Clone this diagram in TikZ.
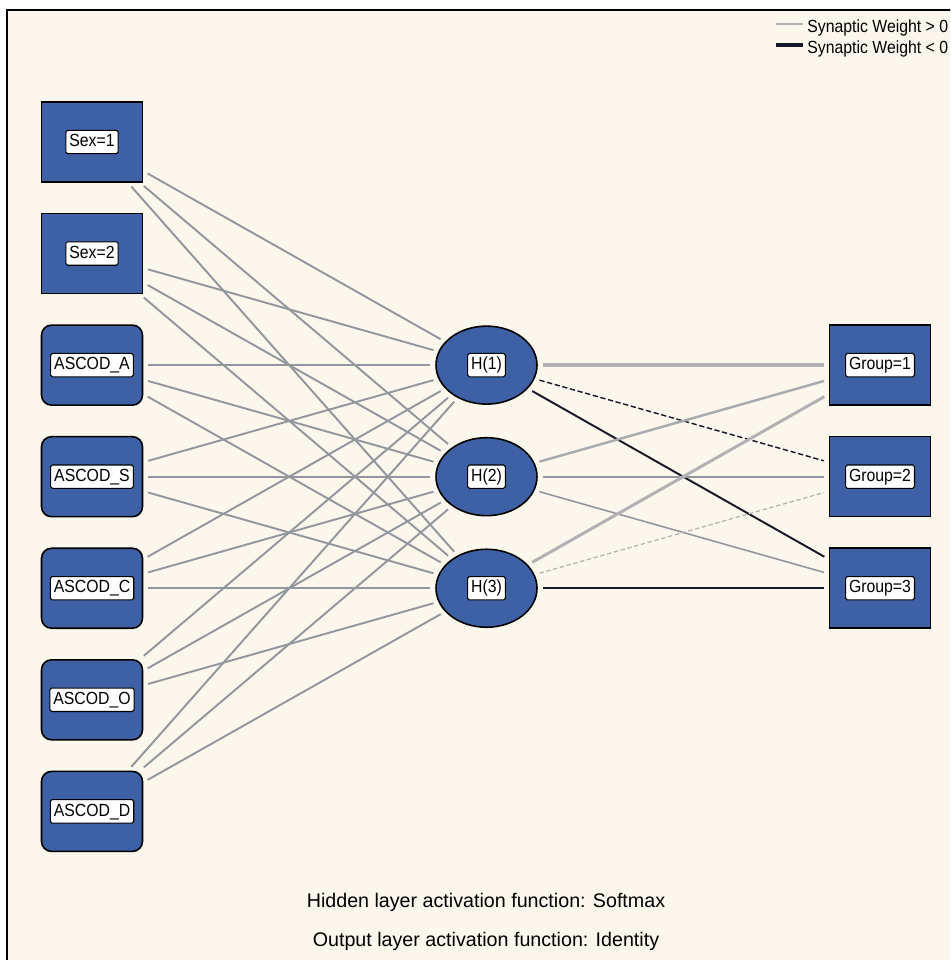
\documentclass[tikz,border=0pt]{standalone}
\usepackage{fontspec}
\setmainfont{Liberation Sans}
\newfontfamily\narrowsf[FakeStretch=0.9]{Liberation Sans}
\usetikzlibrary{shapes, positioning}
\definecolor{paper}{RGB}{252,247,236}
\definecolor{unitblue}{RGB}{62,97,166}
\definecolor{wgray}{RGB}{146,151,158}
\definecolor{wlight}{RGB}{178,178,180}
\definecolor{wdark}{RGB}{22,24,40}
\tikzset{unit/.style = {
  % Box:
  draw=black, line width=0.9pt,
  fill=unitblue,
  minimum width=2.02cm, minimum height=1.6cm,
  inner sep=0pt
  }}
\tikzset{factor/.style = {unit, rectangle}}
\tikzset{covariate/.style = {unit, rectangle, rounded corners=0.2cm}}
\tikzset{hidden/.style = {unit, ellipse, minimum height=1.56cm}}
\tikzset{output/.style = {unit, rectangle}}
\tikzset{tag/.style = {
  % Label:
  draw=black, line width=0.6pt, fill=white,
  rounded corners=1pt,
  inner xsep=0.07cm, inner ysep=2pt,
  text height=7.3pt, text depth=2pt,
  font=\narrowsf\fontsize{10}{12}\selectfont
  }}
\tikzset{weight/.style = {
  shorten >= 0.1cm,
  shorten <= 0.1cm,
  line width=1.1pt,
  draw=wgray
  }}
\tikzset{wpos/.style = {weight, draw=wlight}}
\tikzset{wneg/.style = {weight, draw=wdark}}

\begin{document}
\begin{tikzpicture}[x=0.02cm, y=-0.02cm]
\useasboundingbox (0,0) rectangle (950,960);
\clip (0,0) rectangle (950,960);
% BACKGROUND
\fill[white] (0,0) rectangle (950,960);
\fill[paper] (7,10) rectangle (1000,1000);
\draw[line width=1.3pt] (7,1000) |- (1000,10);

% NODES
\node (sex1) [factor, label={[tag, name=sex1-t]center:Sex=1}] at (92,142) {};
\node (sex2) [factor, below=0.6cm of sex1, label={[tag, name=sex2-t]center:Sex=2}] {};
\node (asa) [covariate, below=0.6cm of sex2, label={[tag, name=asa-t]center:ASCOD\_A}] {};
\node (ass) [covariate, below=0.6cm of asa, label={[tag, name=ass-t]center:ASCOD\_S}] {};
\node (asc) [covariate, below=0.6cm of ass, label={[tag, name=asc-t]center:ASCOD\_C}] {};
\node (aso) [covariate, below=0.6cm of asc, label={[tag, name=aso-t]center:ASCOD\_O}] {};
\node (asd) [covariate, below=0.6cm of aso, label={[tag, name=asd-t]center:ASCOD\_D}] {};

\node (h1) [hidden, right=5.84cm of asa, label={[tag, name=h1-t]center:H(1)}] {};
\node (h2) [hidden, right=5.84cm of ass, label={[tag, name=h2-t]center:H(2)}] {};
\node (h3) [hidden, right=5.84cm of asc, label={[tag, name=h3-t]center:H(3)}] {};

\node (g1) [output, right=5.82cm of h1, label={[tag, name=g1-t]center:Group=1}] {};
\node (g2) [output, right=5.82cm of h2, label={[tag, name=g2-t]center:Group=2}] {};
\node (g3) [output, right=5.82cm of h3, label={[tag, name=g3-t]center:Group=3}] {};

% weights
\foreach \i in {sex1,sex2,asa,ass,asc,aso,asd}
  \foreach \j in {h1,h2,h3}
    \draw [weight] (\i) -- (\j);

\draw [wpos, line width=2.1pt] (h1) -- (g1);
\draw [wneg, line width=0.8pt, dash pattern=on 3pt off 1.5pt] (h1) -- (g2);
\draw [wneg] (h1) -- (g3);
\draw [wpos, draw=wgray!80, line width=1.4pt] (h2) -- (g1);
\draw [weight, line width=1.2pt] (h2) -- (g2);
\draw [weight, line width=0.9pt] (h2) -- (g3);
\draw [wpos, line width=1.7pt] (h3) -- (g1);
\draw [wpos, line width=0.7pt, dash pattern=on 2.5pt off 1.5pt] (h3) -- (g2);
\draw [wneg, line width=1.2pt] (h3) -- (g3);

% legend
\coordinate (lpos-a) at (776,24);
\coordinate (lpos-b) at (803,24);
\coordinate (lneg-a) at (776,45);
\coordinate (lneg-b) at (803,45);
\draw [wpos, shorten >=0pt, shorten <=0pt, line width=1.6pt] (lpos-a) -- (lpos-b);
\draw [wneg, shorten >=0pt, shorten <=0pt, line width=2.2pt] (lneg-a) -- (lneg-b);
\node (lpos) [anchor=base west, inner sep=0pt, font=\narrowsf\fontsize{10}{12}\selectfont] at (807,32) {Synaptic Weight > 0};
\node (lneg) [anchor=base west, inner sep=0pt, font=\narrowsf\fontsize{10}{12}\selectfont] at (807,53) {Synaptic Weight < 0};

% activation functions
\node (hidfn) [anchor=base, inner sep=0pt, font=\fontsize{11.2}{13}\selectfont] at (486,907) {Hidden layer activation function: Softmax};
\node (outfn) [anchor=base, inner sep=0pt, font=\fontsize{11.2}{13}\selectfont] at (486,946) {Output layer activation function: Identity};
\end{tikzpicture}
\end{document}
